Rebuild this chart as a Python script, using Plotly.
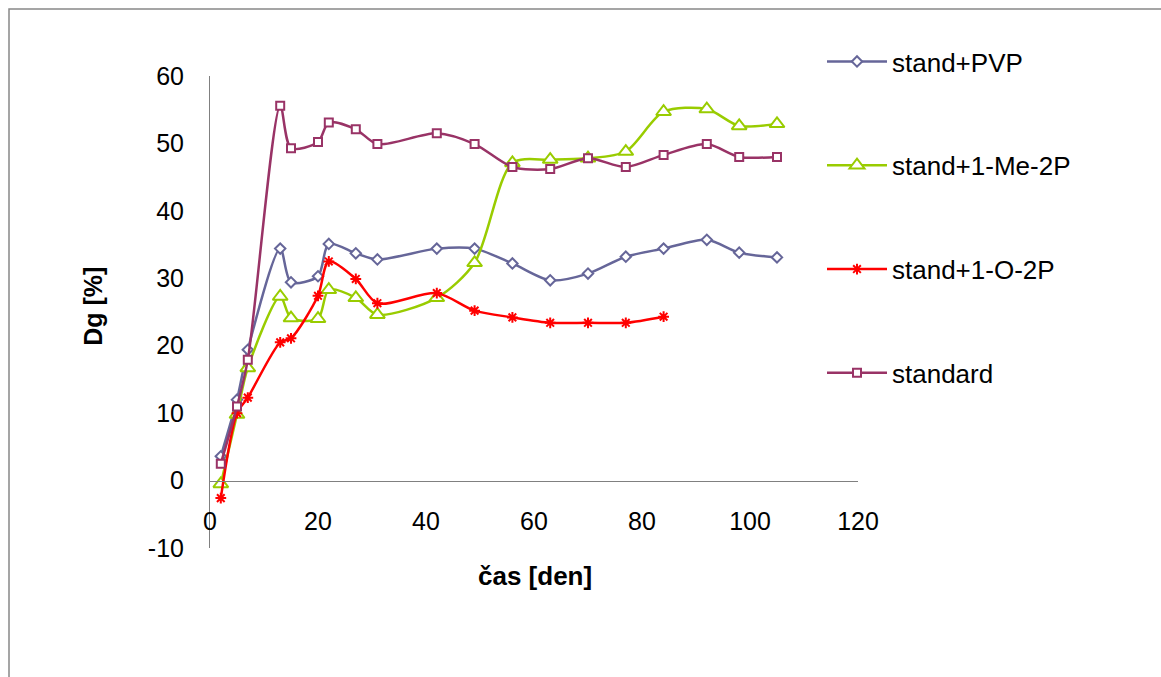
import plotly.graph_objects as go

# Sampling days
days = [2, 5, 7, 13, 15, 20, 22, 27, 31, 42, 49, 56, 63, 70, 77, 84, 92, 98, 105]
days_o2p = [2, 5, 7, 13, 15, 20, 22, 27, 31, 42, 49, 56, 63, 70, 77, 84]

# Dg [%] per series
dg_pvp = [3.6, 12.0, 19.4, 34.4, 29.4, 30.3, 35.1, 33.7, 32.8, 34.4, 34.4, 32.2, 29.7, 30.7, 33.2, 34.4, 35.7, 33.8, 33.1]
dg_me2p = [-0.5, 9.8, 16.7, 27.3, 24.1, 24.0, 28.3, 27.1, 24.6, 27.1, 32.3, 47.1, 47.6, 47.8, 48.8, 54.7, 55.1, 52.6, 52.9]
dg_o2p = [-2.6, 10.0, 12.3, 20.5, 21.1, 27.4, 32.5, 29.9, 26.3, 27.8, 25.2, 24.2, 23.4, 23.4, 23.4, 24.3]
dg_standard = [2.5, 11.0, 17.9, 55.6, 49.3, 50.2, 53.1, 52.1, 49.9, 51.5, 49.9, 46.5, 46.2, 47.8, 46.5, 48.3, 49.9, 48.0, 48.0]

x_ticks = [0, 20, 40, 60, 80, 100, 120]
y_ticks = [-10, 0, 10, 20, 30, 40, 50, 60]
y_tick_text = ["-10", "0", "10", "20", "30", "40", "50", "60"]

FONT = "Liberation Sans, Arial, sans-serif"

series = [
    ("stand+PVP", days, dg_pvp, "#666699", "diamond", 8, "white"),
    ("stand+1-Me-2P", days, dg_me2p, "#99CC00", "triangle-up", 13, "white"),
    ("stand+1-O-2P", days_o2p, dg_o2p, "#FF0000", "asterisk-open", 9, "#FF0000"),
    ("standard", days, dg_standard, "#993366", "square", 8, "white"),
]

fig = go.Figure()
for i, (name, xs, ys, color, symbol, size, fill) in enumerate(series):
    fig.add_trace(go.Scatter(
        x=xs, y=ys, name=name, mode="lines+markers",
        legendgroup=f"g{i}",
        line=dict(color=color, width=2.5, shape="spline", smoothing=0.8),
        marker=dict(symbol=symbol, size=size, color=fill,
                    line=dict(color=color, width=2)),
    ))

# plot area geometry (pixels)
L, R, T, B = 210, 303, 76, 128.5
W, H = 1161, 677
pw, ph = W - L - R, H - T - B

def px_x(px):
    return (px - L) / pw

def px_y(py):
    return (H - B - py) / ph

fig.update_layout(
    width=W, height=H, autosize=False,
    margin=dict(l=L, r=R, t=T, b=B),
    paper_bgcolor="white", plot_bgcolor="white",
    font=dict(family=FONT, color="black"),
    xaxis=dict(
        range=[0, 120], tickvals=x_ticks, showgrid=False, zeroline=False,
        showline=True, linecolor="#808080", linewidth=1,
        anchor="free", position=10 / 70, ticks="",
        tickfont=dict(size=25, family=FONT), ticklabelstandoff=18,
    ),
    yaxis=dict(
        range=[-10, 60], tickvals=y_ticks, ticktext=y_tick_text,
        showgrid=False, zeroline=False,
        showline=True, linecolor="#808080", linewidth=1, ticks="",
        tickfont=dict(size=25, family=FONT), ticklabelstandoff=20,
    ),
    legend=dict(
        x=px_x(822), y=px_y(38), xanchor="left", yanchor="top",
        font=dict(size=26, family=FONT), tracegroupgap=67,
        bgcolor="rgba(0,0,0,0)", itemwidth=60, maxheight=620,
    ),
    annotations=[
        dict(text="<b>čas [den]</b>", xref="paper", yref="paper",
             x=px_x(535), y=px_y(577), xanchor="center", yanchor="middle",
             showarrow=False, font=dict(size=26, family=FONT)),
        dict(text="<b>Dg [%]</b>", xref="paper", yref="paper",
             x=px_x(93), y=px_y(307), xanchor="center", yanchor="middle",
             textangle=-90, showarrow=False, font=dict(size=25, family=FONT)),
    ],
    shapes=[
        dict(type="rect", xref="paper", yref="paper",
             x0=px_x(9), x1=px_x(1300), y0=px_y(800), y1=px_y(9),
             line=dict(color="#888888", width=1.5), fillcolor="rgba(0,0,0,0)",
             layer="below"),
    ],
)

fig.write_html("out.html")
